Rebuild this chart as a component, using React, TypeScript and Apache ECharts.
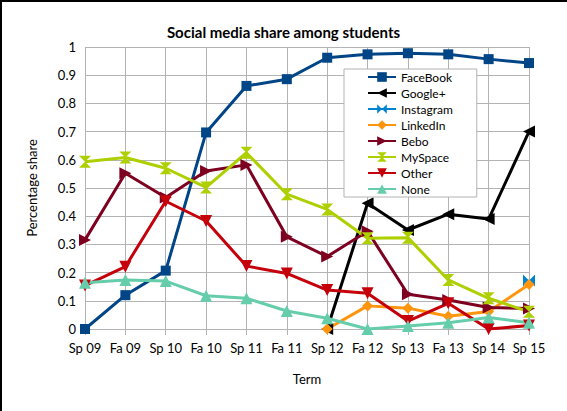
import React, { useEffect, useRef } from "react";
import * as echarts from "echarts";

const terms = ["Sp 09", "Fa 09", "Sp 10", "Fa 10", "Sp 11", "Fa 11", "Sp 12", "Fa 12", "Sp 13", "Fa 13", "Sp 14", "Sp 15"];
const yTicks = [0, 0.1, 0.2, 0.3, 0.4, 0.5, 0.6, 0.7, 0.8, 0.9, 1];

const faceBook = [0, 0.12, 0.207, 0.697, 0.862, 0.886, 0.962, 0.974, 0.978, 0.974, 0.957, 0.943];
const googlePlus = [null, null, null, null, null, null, 0, 0.446, 0.351, 0.407, 0.39, 0.70];
const instagram = [null, null, null, null, null, null, null, null, null, null, null, 0.172];
const linkedIn = [null, null, null, null, null, null, 0, 0.082, 0.074, 0.045, 0.062, 0.158];
const bebo = [0.316, 0.552, 0.466, 0.56, 0.582, 0.327, 0.257, 0.347, 0.123, 0.103, 0.076, 0.073];
const mySpace = [0.593, 0.608, 0.57, 0.502, 0.625, 0.478, 0.424, 0.322, 0.324, 0.174, 0.109, 0.061];
const other = [0.154, 0.221, 0.453, 0.383, 0.223, 0.197, 0.138, 0.127, 0.028, 0.091, 0.0, 0.012];
const none = [0.164, 0.174, 0.17, 0.118, 0.109, 0.064, 0.038, 0.0, 0.011, 0.022, 0.041, 0.022];

const FONT = "Lato, 'Open Sans', sans-serif";

const hourglass = "path://M0,0L10,0L5,5L10,10L0,10L5,5Z";
const bowtie = "path://M0,0L5,5L0,10ZM10,0L5,5L10,10Z";

const seriesDefs = [
  { name: "FaceBook", data: faceBook, color: "#004586", symbol: "rect", size: 10, rotate: 0 },
  { name: "Google+", data: googlePlus, color: "#000000", symbol: "triangle", size: 12, rotate: 90 },
  { name: "Instagram", data: instagram, color: "#0084d1", symbol: bowtie, size: 12, rotate: 0 },
  { name: "LinkedIn", data: linkedIn, color: "#ff950e", symbol: "diamond", size: 11, rotate: 0 },
  { name: "Bebo", data: bebo, color: "#7e0021", symbol: "triangle", size: 12, rotate: -90 },
  { name: "MySpace", data: mySpace, color: "#aecf00", symbol: hourglass, size: 12, rotate: 0 },
  { name: "Other", data: other, color: "#c5000b", symbol: "triangle", size: 12, rotate: 180 },
  { name: "None", data: none, color: "#66cdaa", symbol: "triangle", size: 12, rotate: 0 },
];

export default function App() {
  const ref = useRef<HTMLDivElement>(null);
  useEffect(() => {
    if (!ref.current) return;
    const chart = echarts.init(ref.current, null, { renderer: "svg" });
    chart.setOption({
      animation: false,
      backgroundColor: "#ffffff",
      textStyle: { fontFamily: FONT },
      title: {
        text: "Social media share among students",
        left: "center",
        top: 19,
        textStyle: { fontFamily: FONT, fontSize: 15, fontWeight: "bold", color: "#000" },
      },
      graphic: [
        { type: "rect", shape: { x: 0, y: 0, width: 567, height: 2 }, style: { fill: "#000" } },
        { type: "rect", shape: { x: 0, y: 0, width: 2, height: 411 }, style: { fill: "#000" } },
      ],
      legend: {
        orient: "vertical",
        left: 344,
        top: 69,
        padding: [2, 24, 2, 23],
        itemWidth: 28,
        itemHeight: 12,
        itemGap: 4,
        backgroundColor: "#ffffff",
        borderColor: "#b3b3b3",
        borderWidth: 1,
        textStyle: { fontFamily: FONT, fontSize: 12, color: "#000" },
        data: seriesDefs.map((s) => s.name),
      },
      grid: { left: 85, right: 38, top: 47, bottom: 82 },
      xAxis: {
        type: "category",
        data: terms,
        boundaryGap: false,
        name: "Term",
        nameLocation: "middle",
        nameGap: 43,
        nameTextStyle: { fontFamily: FONT, fontSize: 13, color: "#000" },
        axisLine: { show: true, lineStyle: { color: "#b3b3b3", width: 1 } },
        axisTick: { show: true, length: 6, lineStyle: { color: "#b3b3b3" } },
        axisLabel: { fontFamily: FONT, fontSize: 13, color: "#000", margin: 12, interval: 0 },
        splitLine: { show: true, lineStyle: { color: "#b3b3b3", width: 1 } },
      },
      yAxis: {
        type: "value",
        min: 0,
        max: 1,
        interval: 0.1,
        name: "Percentage share",
        nameLocation: "middle",
        nameGap: 47,
        nameTextStyle: { fontFamily: FONT, fontSize: 13, color: "#000" },
        axisLine: { show: false },
        axisTick: { show: false },
        axisLabel: {
          fontFamily: FONT,
          fontSize: 13,
          color: "#000",
          margin: 9,
          formatter: (v: number) => {
            const t = yTicks.find((x) => Math.abs(x - v) < 1e-6);
            return String(t !== undefined ? t : v);
          },
        },
        splitLine: { show: true, lineStyle: { color: "#b3b3b3", width: 1 } },
      },
      series: seriesDefs.map((s) => ({
        name: s.name,
        type: "line",
        data: s.data,
        symbol: s.symbol,
        symbolSize: s.size,
        symbolRotate: s.rotate,
        showSymbol: true,
        showAllSymbol: true,
        connectNulls: false,
        lineStyle: { color: s.color, width: 3 },
        itemStyle: { color: s.color, borderWidth: 0 },
        emphasis: { disabled: true },
      })),
    });
    return () => chart.dispose();
  }, []);
  return (
    <div
      ref={ref}
      style={{ position: "fixed", left: 0, top: 0, width: 567, height: 411 }}
    />
  );
}
